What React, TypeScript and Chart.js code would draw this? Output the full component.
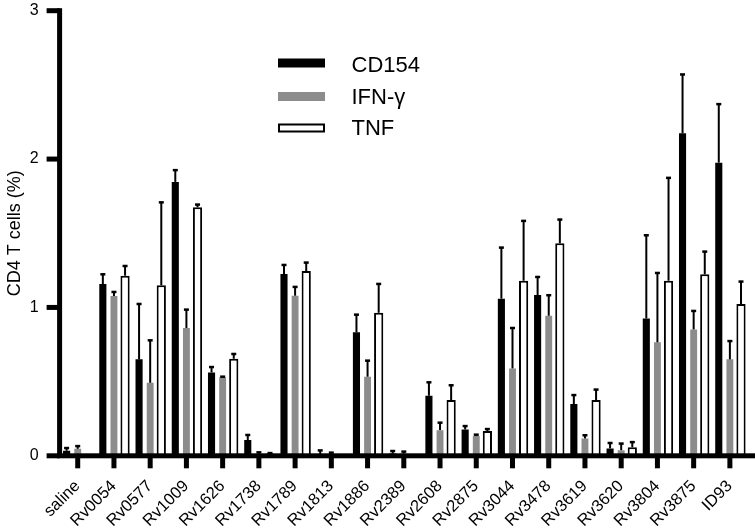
import { useEffect, useRef } from 'react';
import { Chart, registerables } from 'chart.js';

Chart.register(...registerables);

const categories = ['saline', 'Rv0054', 'Rv0577', 'Rv1009', 'Rv1626', 'Rv1738', 'Rv1789', 'Rv1813', 'Rv1886', 'Rv2389', 'Rv2608', 'Rv2875', 'Rv3044', 'Rv3478', 'Rv3619', 'Rv3620', 'Rv3804', 'Rv3875', 'ID93'];

const cd154 = [0.034, 1.158, 0.650, 1.846, 0.562, 0.106, 1.225, 0.012, 0.832, 0.015, 0.405, 0.178, 1.059, 1.084, 0.349, 0.050, 0.926, 2.174, 1.976];
const cd154Err = [0.02, 0.067, 0.375, 0.081, 0.038, 0.036, 0.063, 0.026, 0.121, 0.019, 0.092, 0.024, 0.346, 0.123, 0.062, 0.038, 0.562, 0.398, 0.396];

const ifng = [0.047, 1.077, 0.492, 0.861, 0.529, 0.010, 1.079, 0.010, 0.533, 0.015, 0.173, 0.133, 0.589, 0.944, 0.117, 0.038, 0.765, 0.852, 0.650];
const ifngErr = [0.02, 0.029, 0.288, 0.126, 0.006, 0.015, 0.061, 0.013, 0.110, 0.015, 0.052, 0.011, 0.274, 0.140, 0.023, 0.046, 0.469, 0.126, 0.125];

const tnf = [0.008, 1.214, 1.149, 1.675, 0.654, 0.015, 1.245, 0.005, 0.964, 0.008, 0.376, 0.167, 1.180, 1.432, 0.376, 0.057, 1.180, 1.223, 1.023];
const tnfErr = [0, 0.067, 0.561, 0.02, 0.034, 0.005, 0.059, 0, 0.196, 0, 0.101, 0.015, 0.405, 0.162, 0.072, 0.037, 0.695, 0.155, 0.153];

const yTicks = [0, 1, 2, 3];
const yTitle = 'CD4 T cells (%)';
const seriesLabels = ['CD154', 'IFN-γ', 'TNF'];
const errors = [cd154Err, ifngErr, tnfErr];

const FONT = "'Liberation Sans', Arial, Helvetica, sans-serif";

const errorBarPlugin = {
  id: 'errorBars',
  afterDatasetsDraw(chart: any) {
    const ctx = chart.ctx;
    const yScale = chart.scales.y;
    ctx.save();
    ctx.strokeStyle = '#000';
    ctx.fillStyle = '#000';
    ctx.lineWidth = 2;
    chart.data.datasets.forEach((ds: any, i: number) => {
      const meta = chart.getDatasetMeta(i);
      const errs = errors[i];
      meta.data.forEach((el: any, j: number) => {
        const e = errs[j];
        if (!e) return;
        const v = ds.data[j];
        const yTop = el.y;
        const yErr = yScale.getPixelForValue(v + e);
        ctx.beginPath();
        ctx.moveTo(el.x, yTop);
        ctx.lineTo(el.x, yErr);
        ctx.stroke();
        ctx.fillRect(el.x - 2.5, yErr - 1, 5, 2.5);
      });
    });
    ctx.restore();
  },
};

const axesAndLegendPlugin = {
  id: 'axesAndLegend',
  afterDraw(chart: any) {
    const ctx = chart.ctx;
    const ca = chart.chartArea;
    const xs = chart.scales.x;
    const ys = chart.scales.y;
    ctx.save();
    ctx.fillStyle = '#000';
    // y axis line and ticks
    const yTopPx = ys.getPixelForValue(yTicks[yTicks.length - 1]);
    ctx.fillRect(ca.left - 2.5, yTopPx - 2.5, 5, ca.bottom - yTopPx + 2.5);
    yTicks.forEach((v) => {
      const py = ys.getPixelForValue(v);
      ctx.fillRect(ca.left - 13, py - 2.5, 13, 5);
    });
    // x axis line, ticks and rotated category labels
    ctx.fillRect(ca.left - 2.5, ca.bottom - 2.5, chart.width - ca.left + 2.5, 5);
    ctx.font = `16.5px ${FONT}`;
    ctx.textAlign = 'right';
    ctx.textBaseline = 'alphabetic';
    categories.forEach((label, i) => {
      const px = xs.getPixelForValue(i);
      ctx.fillRect(px - 2.5, ca.bottom, 5, 12.5);
      ctx.save();
      ctx.translate(px + 3, ca.bottom + 31);
      ctx.rotate(-Math.PI / 4);
      ctx.fillText(label, 0, 0);
      ctx.restore();
    });

    // legend
    const boxX = 278;
    const boxW = 47;
    const boxH = 9;
    const rows = [58.5, 92, 123.5];
    const baselines = [71.5, 104, 135];
    ctx.font = `22px ${FONT}`;
    ctx.textAlign = 'left';
    chart.data.datasets.forEach((ds: any, i: number) => {
      const y = rows[i];
      ctx.fillStyle = ds.backgroundColor;
      ctx.fillRect(boxX, y, boxW, boxH);
      if (ds.borderWidth) {
        ctx.strokeStyle = ds.borderColor;
        ctx.lineWidth = 2;
        ctx.strokeRect(boxX + 1, y + 1, boxW - 2, boxH - 2);
      }
      ctx.fillStyle = '#000';
      ctx.fillText(ds.label, 351.5, baselines[i]);
    });
    ctx.restore();
  },
};

export default function App() {
  const ref = useRef<HTMLCanvasElement>(null);
  useEffect(() => {
    document.body.style.margin = '0';
    const chart = new Chart(ref.current as HTMLCanvasElement, {
      type: 'bar',
      data: {
        labels: categories,
        datasets: [
          { label: seriesLabels[0], data: cd154, backgroundColor: '#000000', borderWidth: 0, barPercentage: 0.64, categoryPercentage: 0.92 },
          { label: seriesLabels[1], data: ifng, backgroundColor: '#8c8c8c', borderWidth: 0, barPercentage: 0.62, categoryPercentage: 0.92 },
          { label: seriesLabels[2], data: tnf, backgroundColor: '#ffffff', borderColor: '#000000', borderWidth: 2, barPercentage: 0.83, categoryPercentage: 0.92 },
        ],
      },
      options: {
        responsive: false,
        animation: false,
        devicePixelRatio: 1,
        layout: { padding: { top: 10.7, right: 7, left: 0, bottom: 0 } },
        plugins: { legend: { display: false }, tooltip: { enabled: false } },
        scales: {
          x: {
            type: 'category',
            offset: true,
            grid: { display: false, drawTicks: false },
            border: { display: false },
            ticks: { display: false },
            afterFit: (s: any) => { s.height = 75.2; s.paddingLeft = 0; s.paddingRight = 0; },
          },
          y: {
            min: 0,
            max: 3,
            afterBuildTicks: (s: any) => { s.ticks = yTicks.map((v) => ({ value: v })); },
            grid: { drawOnChartArea: false, drawTicks: true, tickLength: 13, color: 'rgba(0,0,0,0)' },
            border: { display: false },
            ticks: { color: '#000', font: { family: FONT, size: 16 }, padding: 8 },
            title: { display: true, text: yTitle, color: '#000', font: { family: FONT, size: 18 }, padding: { top: 4, bottom: 0 } },
            afterFit: (s: any) => { s.width = 59.6; s.paddingTop = 0; s.paddingBottom = 0; },
          },
        },
      } as any,
      plugins: [errorBarPlugin, axesAndLegendPlugin],
    });
    return () => chart.destroy();
  }, []);
  return (
    <div style={{ position: 'absolute', left: 0, top: 0, width: 755, height: 531, background: '#fff' }}>
      <canvas ref={ref} width={755} height={531} style={{ display: 'block', width: 755, height: 531 }} />
    </div>
  );
}
